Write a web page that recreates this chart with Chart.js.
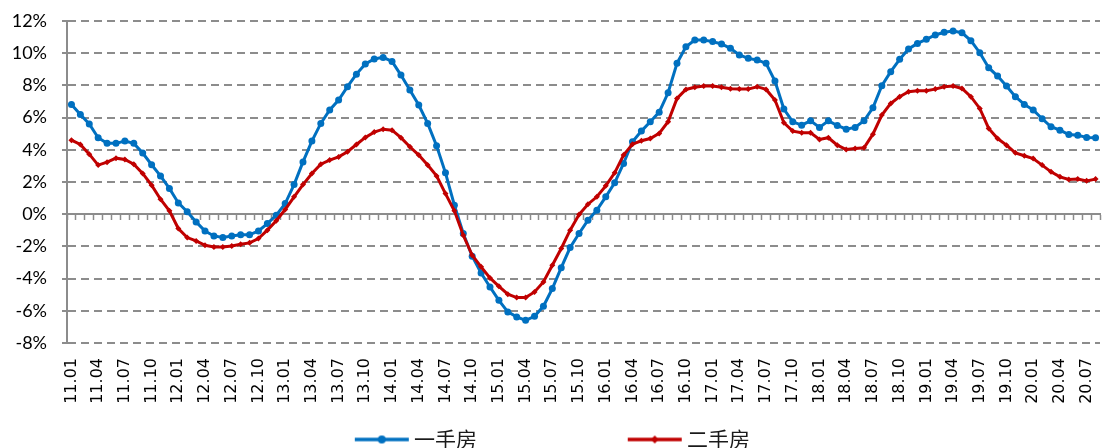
<!DOCTYPE html>
<html><head><meta charset="utf-8">
<script src="https://cdn.jsdelivr.net/npm/chart.js@4/dist/chart.umd.min.js"></script>
<style>html,body{margin:0;padding:0;background:#fff}#wrap{width:1111px;height:448px}</style>
</head><body><div id="wrap"><canvas id="c" width="1111" height="448"></canvas></div>
<script>
const categories = [
'11.01','11.02','11.03','11.04','11.05','11.06','11.07','11.08','11.09','11.10','11.11','11.12',
'12.01','12.02','12.03','12.04','12.05','12.06','12.07','12.08','12.09','12.10','12.11','12.12',
'13.01','13.02','13.03','13.04','13.05','13.06','13.07','13.08','13.09','13.10','13.11','13.12',
'14.01','14.02','14.03','14.04','14.05','14.06','14.07','14.08','14.09','14.10','14.11','14.12',
'15.01','15.02','15.03','15.04','15.05','15.06','15.07','15.08','15.09','15.10','15.11','15.12',
'16.01','16.02','16.03','16.04','16.05','16.06','16.07','16.08','16.09','16.10','16.11','16.12',
'17.01','17.02','17.03','17.04','17.05','17.06','17.07','17.08','17.09','17.10','17.11','17.12',
'18.01','18.02','18.03','18.04','18.05','18.06','18.07','18.08','18.09','18.10','18.11','18.12',
'19.01','19.02','19.03','19.04','19.05','19.06','19.07','19.08','19.09','19.10','19.11','19.12',
'20.01','20.02','20.03','20.04','20.05','20.06','20.07','20.08'];

const seriesNames = ['一手房', '二手房'];

const newHome = [
6.82,6.2,5.6,4.75,4.4,4.4,4.54,4.4,3.8,3.07,
2.38,1.6,0.7,0.15,-0.48,-1.04,-1.35,-1.45,-1.35,-1.28,
-1.28,-1.04,-0.58,-0.06,0.66,1.84,3.25,4.54,5.64,6.47,
7.09,7.92,8.7,9.33,9.64,9.74,9.49,8.64,7.71,6.78,
5.64,4.25,2.57,0.56,-1.2,-2.61,-3.65,-4.52,-5.35,-6.07,
-6.38,-6.59,-6.34,-5.72,-4.62,-3.32,-2.07,-1.2,-0.37,0.25,
1.08,1.95,3.15,4.5,5.16,5.74,6.34,7.54,9.37,10.4,
10.82,10.82,10.72,10.57,10.3,9.89,9.68,9.58,9.37,8.27,
6.53,5.74,5.53,5.8,5.39,5.8,5.51,5.28,5.39,5.8,
6.61,7.98,8.85,9.62,10.26,10.61,10.86,11.13,11.3,11.38,
11.27,10.78,10.03,9.1,8.58,7.96,7.3,6.82,6.47,5.93,
5.43,5.22,4.95,4.91,4.77,4.75];

const resale = [
4.6,4.33,3.73,3.05,3.23,3.48,3.4,3.11,2.53,1.8,
0.93,0.21,-0.89,-1.45,-1.66,-1.93,-2.03,-2.03,-1.97,-1.87,
-1.78,-1.51,-0.99,-0.41,0.29,1.08,1.84,2.53,3.11,3.36,
3.56,3.88,4.33,4.77,5.1,5.28,5.22,4.75,4.19,3.67,
3.05,2.38,1.28,0.21,-1.31,-2.55,-3.27,-3.96,-4.48,-4.97,
-5.18,-5.18,-4.83,-4.21,-3.17,-2.13,-0.99,-0.02,0.62,1.08,
1.76,2.57,3.67,4.35,4.56,4.7,5.02,5.74,7.19,7.75,
7.88,7.96,7.96,7.88,7.79,7.77,7.77,7.92,7.75,7.09,
5.68,5.16,5.06,5.06,4.64,4.75,4.29,4.02,4.08,4.12,
4.97,6.16,6.88,7.3,7.61,7.67,7.67,7.77,7.92,7.96,
7.81,7.3,6.57,5.33,4.7,4.29,3.81,3.63,3.46,3.05,
2.63,2.32,2.16,2.18,2.07,2.18];

const yMin = -8, yMax = 12, yStep = 2;
const labelEvery = 3;

const BLUE = '#0070C0', RED = '#C00000', AXIS = '#8c8c8c';

function legendSwatch(color, marker) {
  const c = document.createElement('canvas');
  c.width = 66; c.height = 12;
  const g = c.getContext('2d');
  g.strokeStyle = color; g.lineWidth = 3.5;
  g.beginPath(); g.moveTo(11, 6); g.lineTo(65, 6); g.stroke();
  g.fillStyle = color;
  g.beginPath();
  if (marker === 'circle') { g.arc(38, 6, 4, 0, Math.PI * 2); }
  else { g.moveTo(38, 2); g.lineTo(42, 6); g.lineTo(38, 10); g.lineTo(34, 6); g.closePath(); }
  g.fill();
  return c;
}
function spacerSwatch() { const c = document.createElement('canvas'); c.width = 1; c.height = 1; return c; }

function makeLegendItems() {
  const spacer = () => ({ text: '', pointStyle: spacerSwatch(), fillStyle: 'rgba(0,0,0,0)', strokeStyle: 'rgba(0,0,0,0)', lineWidth: 0, hidden: false, fontColor: 'rgba(0,0,0,0)' });
  return [
    { text: seriesNames[0], pointStyle: legendSwatch(BLUE, 'circle'), fillStyle: BLUE, strokeStyle: BLUE, lineWidth: 0, hidden: false, datasetIndex: 0, fontColor: '#1a1a1a' },
    spacer(), spacer(),
    { text: seriesNames[1], pointStyle: legendSwatch(RED, 'diamond'), fillStyle: RED, strokeStyle: RED, lineWidth: 0, hidden: false, datasetIndex: 1, fontColor: '#1a1a1a' }
  ];
}

new Chart(document.getElementById('c'), {
  type: 'line',
  data: {
    labels: categories,
    datasets: [
      { label: seriesNames[0], data: newHome, xAxisID: 'x', yAxisID: 'y', borderColor: BLUE, backgroundColor: BLUE,
        borderWidth: 3, pointStyle: 'circle', pointRadius: 3.5, pointBorderWidth: 0, pointBackgroundColor: BLUE, tension: 0, order: 1 },
      { label: seriesNames[1], data: resale, xAxisID: 'x', yAxisID: 'y', borderColor: RED, backgroundColor: RED,
        borderWidth: 3, pointStyle: 'rectRot', pointRadius: 3, pointBorderWidth: 0, pointBackgroundColor: RED, tension: 0, order: 0 }
    ]
  },
  options: {
    responsive: false, animation: false, devicePixelRatio: 1,
    layout: { padding: { top: 21, right: 11, bottom: 0, left: 0 } },
    plugins: {
      legend: {
        position: 'bottom', maxHeight: 25,
        labels: { usePointStyle: true, pointStyleWidth: 53.5, padding: 6,
          font: { family: '"Noto Sans CJK SC"', size: 21 }, color: '#1a1a1a',
          generateLabels: makeLegendItems }
      },
      tooltip: { enabled: false }
    },
    scales: {
      x: {
        type: 'category', offset: true,
        grid: { display: false, drawTicks: false },
        border: { display: false },
        ticks: { autoSkip: false, minRotation: 90, maxRotation: 90, padding: 15, color: '#000',
          font: { family: '"DejaVu Sans"', size: 16 },
          callback: function (v, i) { return i % labelEvery === 0 ? this.getLabelForValue(v) : ''; } },
        afterFit: s => { s.height = 80; s.paddingLeft = 0; s.paddingRight = 0; }
      },
      x0: {
        type: 'category', axis: 'x', position: { y: 0 }, offset: true,
        grid: { display: true, drawOnChartArea: false, drawTicks: true, tickLength: 5, tickWidth: 1.5, tickColor: AXIS, offset: true },
        border: { display: true, color: AXIS, width: 2 },
        ticks: { display: false, autoSkip: false },
        afterFit: s => { s.paddingLeft = 0; s.paddingRight = 0; }
      },
      y: {
        min: yMin, max: yMax,
        ticks: { stepSize: yStep, padding: 15, color: '#000', font: { family: 'Lato', size: 18 }, callback: v => v + '%' },
        grid: { color: AXIS, lineWidth: 2, drawTicks: true, tickLength: 5, tickColor: AXIS, tickWidth: 2 },
        border: { display: true, color: AXIS, width: 2, dash: [8, 5] },
        afterFit: s => { s.width = 67; s.paddingTop = 0; s.paddingBottom = 0; }
      }
    }
  }
});
</script>
</body></html>
